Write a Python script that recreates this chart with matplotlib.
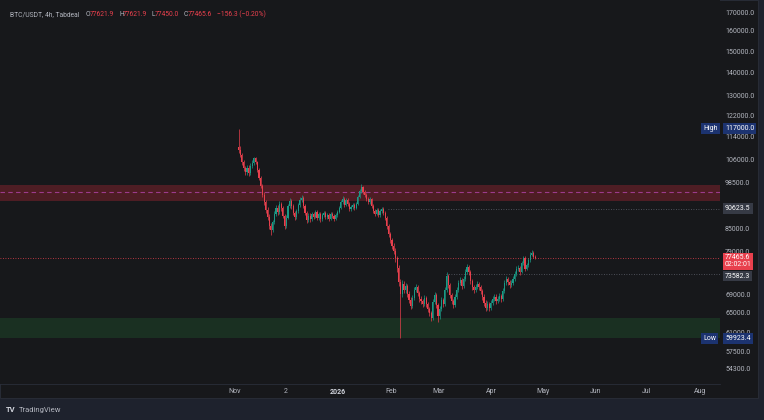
import matplotlib
matplotlib.use('Agg')
import matplotlib.pyplot as plt
import matplotlib.dates as mdates
from matplotlib.patches import Rectangle
from matplotlib.ticker import FixedLocator, NullLocator, NullFormatter, FuncFormatter
import numpy as np
import pandas as pd

plt.rcParams['font.family'] = ['Roboto', 'DejaVu Sans']

# daily candles, Nov 3 2025 -> Apr 26 2026
first_open = 110500.0
closes = [
    109400, 107600, 105200, 103200, 101900, 103300, 101500, 104000, 104900, 106500,
    105200, 102600, 100000, 97500, 94700, 92600, 90300, 88300, 85800, 84700,
    86900, 89100, 90800, 89700, 92000, 90900, 88600, 85800, 88000, 91400,
    92900, 91400, 89400, 88300, 90000, 91700, 93200, 93800, 91400, 89400,
    87400, 88600, 87700, 89100, 88300, 89700, 88000, 89100, 87700, 88800,
    89400, 88300, 88800, 87700, 89100, 88600, 87700, 88800, 89700, 90900,
    92600, 93500, 91700, 93200, 92000, 90600, 91100, 91700, 90900, 92000,
    94100, 95900, 97100, 95600, 94700, 93500, 92600, 93500, 91400, 90000,
    89100, 90300, 88800, 90000, 90600, 89400, 88000, 85800, 83600, 82000,
    80500, 79200, 77400, 75000, 71700, 69000, 71300, 69900, 70800, 69000,
    67700, 66400, 68100, 69900, 70600, 69200, 67900, 67500, 66800, 68100,
    66800, 65800, 64900, 63900, 67300, 68800, 66600, 64300, 65800, 67700,
    66800, 69900, 73100, 71000, 68800, 67500, 66600, 68400, 69900, 71500,
    72200, 70800, 72400, 74000, 75200, 74000, 71900, 70600, 69900, 70600,
    71300, 70600, 69700, 68400, 67100, 66000, 66800, 66000, 67100, 67900,
    68400, 67500, 67900, 68600, 67900, 69700, 71500, 72400, 71700, 71000,
    71500, 72400, 73600, 74800, 75000, 74000, 76200, 77400, 74800, 75700,
    76900, 78200, 78700, 77700, 77465.6,
]
highs = [
    117000, 110800, 108400, 106000, 104000, 104300, 104100, 104900, 105800, 107000,
    106900, 105700, 103300, 100600, 98200, 95500, 93300, 91000, 89000, 86600,
    87400, 89900, 91600, 91700, 92900, 92700, 91500, 89100, 88800, 92100,
    93800, 93500, 92000, 90100, 90600, 92400, 94000, 94600, 94300, 92000,
    90100, 89300, 89400, 89800, 89700, 90300, 90200, 89700, 89600, 89400,
    90100, 89900, 89500, 89300, 89700, 89600, 89100, 89400, 90300, 91500,
    93300, 94300, 94000, 93900, 93700, 92500, 91800, 92300, 92200, 92600,
    94800, 96600, 98000, 97600, 96200, 95200, 94000, 94100, 93900, 91900,
    90600, 90900, 90800, 90600, 91200, 91000, 89900, 88500, 86300, 84200,
    82600, 81200, 79900, 78000, 75600, 72300, 72100, 72000, 71500, 71300,
    69600, 68300, 68800, 70500, 71300, 71000, 69700, 68500, 68000, 68700,
    68500, 67300, 66300, 65400, 67900, 69500, 69200, 67000, 66400, 68300,
    68200, 70600, 74000, 73500, 71500, 69300, 68000, 69000, 70500, 72100,
    72900, 72700, 73000, 74700, 75900, 75700, 74400, 72400, 71100, 71200,
    71900, 71800, 71100, 70200, 68900, 67600, 67400, 67300, 67700, 68500,
    69000, 68900, 68500, 69200, 69100, 70300, 72100, 73100, 72900, 72200,
    72100, 73000, 74200, 75400, 75700, 75500, 76800, 78000, 77900, 76300,
    77500, 78800, 79400, 79100, 78100,
]
lows = [
    108300, 106900, 104300, 102200, 100800, 101000, 100600, 101000, 103200, 104200,
    104400, 102000, 99300, 96800, 94000, 91800, 89500, 87400, 84900, 83300,
    84200, 86300, 88500, 88900, 89200, 90100, 87900, 84900, 85300, 87600,
    90800, 90600, 88700, 87500, 87800, 89500, 91200, 92500, 90700, 88800,
    86600, 86900, 87000, 87200, 87600, 87900, 87400, 87500, 87000, 87200,
    88300, 87700, 87800, 87100, 87300, 88000, 87100, 87300, 88400, 89300,
    90500, 92100, 91100, 91300, 91400, 90000, 90000, 90600, 90300, 90500,
    91700, 93700, 95400, 95000, 94100, 92900, 91900, 92100, 90900, 89400,
    88500, 88700, 88200, 88400, 89500, 88900, 87300, 85000, 82800, 81200,
    79700, 78300, 76500, 74100, 70900, 59923.4, 68400, 69200, 69300, 68400,
    67000, 65800, 66000, 67700, 69400, 68600, 67300, 66800, 66200, 66400,
    66200, 65200, 64300, 63200, 63500, 66900, 66000, 63100, 63800, 65400,
    66200, 66500, 69500, 70400, 68200, 66900, 66000, 66200, 68000, 69500,
    71000, 70200, 70400, 72000, 73600, 73400, 71300, 70000, 69300, 69400,
    70200, 70000, 69100, 67800, 66500, 65400, 65500, 65400, 65600, 66700,
    67400, 66900, 67000, 67500, 67300, 67500, 69300, 71000, 71100, 70400,
    70500, 71100, 72000, 73200, 74300, 73400, 73700, 75800, 74300, 74400,
    75300, 76500, 77800, 77300, 77200,
]
dates = pd.date_range('2025-11-03', periods=len(closes), freq='D')

price_ticks = [170000, 160000, 150000, 140000, 130000, 122000, 114000, 106000,
               98500, 85000, 79000, 69000, 65000, 61000, 57500, 54300]
month_ticks = ['2025-11-01', '2025-12-01', '2026-01-01', '2026-02-01', '2026-03-01',
               '2026-04-01', '2026-05-01', '2026-06-01', '2026-07-01', '2026-08-01']
month_labels = ['Nov', '2', '2026', 'Feb', 'Mar', 'Apr', 'May', 'Jun', 'Jul', 'Aug']

supply_lo, supply_hi, supply_mid = 92900, 97800, 95700
demand_lo, demand_hi = 59900, 64000
last_price = 77465.6
countdown = '02:02:01'
high_price = 117000.0
low_price = 59923.4
level_a_start, level_a = '2026-01-30', 90623.5
level_b_start, level_b = '2026-03-05', 73582.3

BG = '#17181b'
OUTER = '#1e222d'
UP = '#1a9a86'
DOWN = '#e8404d'
TXT = '#b2b5be'

fig = plt.figure(figsize=(7.64, 4.20), dpi=100, facecolor=OUTER)
panel = Rectangle((0, 22 / 420), 758 / 764, 398 / 420, transform=fig.transFigure,
                  facecolor=BG, edgecolor='#2a2e39', linewidth=0.6, zorder=-10)
fig.patches.append(panel)
ax = fig.add_axes([0, 36 / 420, 720 / 764, 384 / 420])
ax.set_facecolor(BG)
ax.set_zorder(1)

o = np.array([first_open] + closes[:-1], dtype=float)
c = np.array(closes, dtype=float)
h = np.array(highs, dtype=float)
l = np.array(lows, dtype=float)
x = mdates.date2num(dates) + 0.5
cols = np.where(c >= o, UP, DOWN)

ax.axhspan(supply_lo, supply_hi, color='#4e1d24', lw=0, zorder=0.5)
ax.axhspan(demand_lo, demand_hi, color='#1a3022', lw=0, zorder=0.5)
ax.axhline(supply_mid, color='#9c3b8c', ls=(0, (4, 3)), lw=0.8, zorder=0.6)

ax.vlines(x, l, h, colors=cols, linewidth=0.5, zorder=2)
body_lo = np.minimum(o, c)
body_h = np.maximum(np.abs(c - o), body_lo * 0.002)
ax.bar(x, body_h, bottom=body_lo, width=0.65, color=cols, linewidth=0, zorder=2)

x0 = mdates.date2num(pd.Timestamp('2025-11-01'))
ax.set_xlim(x0 - 137.4, x0 + 284.9)
ax.set_yscale('log')
ax.set_ylim(51750, 176650)
xr = ax.get_xlim()[1]

ax.axhline(last_price, color=DOWN, ls=(0, (1, 2)), lw=0.6, zorder=1.5)
ax.hlines(level_a, mdates.date2num(pd.Timestamp(level_a_start)), xr,
          color='#5d606b', ls=(0, (1, 2)), lw=0.6, zorder=1.5)
ax.hlines(level_b, mdates.date2num(pd.Timestamp(level_b_start)), xr,
          color='#5d606b', ls=(0, (1, 2)), lw=0.6, zorder=1.5)

ax.yaxis.set_major_locator(FixedLocator(price_ticks))
ax.yaxis.set_minor_locator(NullLocator())
ax.yaxis.set_minor_formatter(NullFormatter())
ax.yaxis.set_major_formatter(FuncFormatter(lambda v, p: '%.1f' % v))
ax.tick_params(axis='y', left=False, right=True, labelleft=False, labelright=True,
               length=0, pad=3.6, labelsize=5, labelcolor=TXT)
ax.set_xticks(mdates.date2num(pd.to_datetime(month_ticks)))
ax.set_xticklabels(month_labels)
ax.tick_params(axis='x', length=0, pad=2.6, labelsize=5, labelcolor=TXT)
for lab in ax.get_xticklabels():
    if lab.get_text() == '2026':
        lab.set_fontweight('bold')
        lab.set_color('#d1d4dc')
for s in ['top', 'left', 'right']:
    ax.spines[s].set_visible(False)
ax.spines['bottom'].set_color('#2a2e39')
ax.spines['bottom'].set_linewidth(0.6)

ytr = ax.get_yaxis_transform()
xlab = 1 + 5 / 720


def tag(y, text, fc, tc='white', dy=0, pad=0.3):
    ax.annotate(text, (xlab, y), xycoords=ytr, xytext=(0, dy), textcoords='offset points',
                ha='left', va='center', fontsize=5, color=tc, annotation_clip=False,
                linespacing=1.0,
                bbox=dict(boxstyle='square,pad=%s' % pad, fc=fc, ec='none'), zorder=5)


tag(high_price, '%.1f' % high_price, '#1c3370')
ax.text(703 / 720, high_price, 'High', transform=ytr, ha='left', va='center', fontsize=5,
        color='white', bbox=dict(boxstyle='square,pad=0.3', fc='#1c3370', ec='none'), zorder=5)
tag(low_price, '%.1f' % low_price, '#1c3370')
ax.text(703 / 720, low_price, 'Low', transform=ytr, ha='left', va='center', fontsize=5,
        color='white', bbox=dict(boxstyle='square,pad=0.3', fc='#1c3370', ec='none'), zorder=5)
tag(level_a, '%.1f' % level_a, '#363a45')
tag(level_b, '%.1f' % level_b, '#363a45', dy=-1.6, pad=0.25)
tag(last_price, '%.1f\n%s' % (last_price, countdown), DOWN, dy=-2.4, pad=0.22)

# header line
ty = 1 - 14.7 / 420
parts = [(10, 'BTC/USDT, 4h, Tabdeal', TXT), (86, 'O', TXT), (89.5, '77621.9', DOWN),
         (119, 'H', TXT), (123, '77621.9', DOWN), (152, 'L', TXT), (155, '77450.0', DOWN),
         (184, 'C', TXT), (187.5, '77465.6', DOWN), (217, '\u2212156.3 (\u22120.20%)', DOWN)]
for px, s, col in parts:
    fig.text(px / 764, ty, s, fontsize=4.9, color=col, va='center', ha='left', zorder=5)

fig.text(6 / 764, 1 - 410 / 420, 'TV', fontsize=5.5, fontweight='bold', color='#d1d4dc',
         va='center', ha='left')
fig.text(19 / 764, 1 - 410 / 420, 'TradingView', fontsize=5.5, color=TXT,
         va='center', ha='left')

fig.savefig('out.png', dpi=100, facecolor=OUTER)
